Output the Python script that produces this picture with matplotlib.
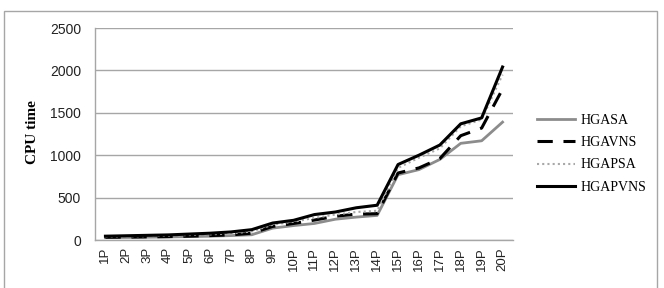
import matplotlib
matplotlib.use("Agg")
import matplotlib.pyplot as plt
from matplotlib.patches import Rectangle

categories = [f"{i}P" for i in range(1, 21)]
hgasa   = [28, 30, 33, 36, 40, 45, 52, 62, 140, 170, 195, 245, 270, 290, 770, 830, 950, 1140, 1170, 1390]
hgavns  = [32, 34, 37, 40, 45, 52, 60, 80, 160, 195, 235, 280, 305, 310, 790, 850, 960, 1230, 1320, 1780]
hgapsa  = [38, 42, 46, 50, 58, 66, 78, 100, 180, 215, 260, 300, 330, 345, 850, 970, 1080, 1340, 1420, 1950]
hgapvns = [45, 50, 55, 60, 70, 80, 95, 122, 200, 232, 300, 330, 380, 410, 890, 1000, 1120, 1370, 1440, 2040]
yticks = [0, 500, 1000, 1500, 2000, 2500]

W, H = 664, 288
fig = plt.figure(figsize=(W/100, H/100), dpi=100)
ax = fig.add_axes([95/W, 1-240/H, (513-95)/W, (240-28)/H])

x = list(range(len(categories)))
ax.plot(x, hgasa, color="#8c8c8c", lw=2.0, label="HGASA")
ax.plot(x, hgavns, color="black", lw=2.2, dashes=(5, 3.5), label="HGAVNS")
ax.plot(x, hgapsa, color="#a8a8a8", lw=1.5, ls=(0, (1, 1.5)), label="HGAPSA")
ax.plot(x, hgapvns, color="black", lw=2.2, label="HGAPVNS")

ax.set_xlim(-0.5, len(categories) - 0.5)
ax.set_ylim(0, 2500)
ax.set_yticks(yticks)
ax.set_yticklabels([str(v) for v in yticks], fontsize=10, family="Liberation Sans", color="#222222")
ax.set_xticks(x)
ax.set_xticklabels(categories, rotation=90, fontsize=9.5, family="Liberation Sans", color="#222222")
ax.tick_params(axis="y", length=0, pad=10)
ax.tick_params(axis="x", length=0, pad=5)
ax.grid(axis="y", color="#a6a6a6", lw=1.0)
ax.set_axisbelow(True)
for s in ["top", "right"]:
    ax.spines[s].set_visible(False)
for s in ["left", "bottom"]:
    ax.spines[s].set_color("#a6a6a6")
    ax.spines[s].set_linewidth(1.0)

fig.text(32/W, 1-132/H, "CPU time", rotation=90, ha="center", va="center",
         fontsize=11, fontweight="bold", family="Liberation Serif")

leg = fig.legend(loc="upper left", bbox_to_anchor=(524/W, 1-101/H), frameon=False,
                 prop={"family": "Liberation Serif", "size": 10},
                 handlelength=2.8, handletextpad=0.4, labelspacing=0.68)

fig.patches.append(Rectangle((4/W, -0.05), (657-4)/W, 1.05-11/H,
                             transform=fig.transFigure, fill=False,
                             edgecolor="#a6a6a6", lw=1.0))
fig.savefig("out.png", dpi=100)
